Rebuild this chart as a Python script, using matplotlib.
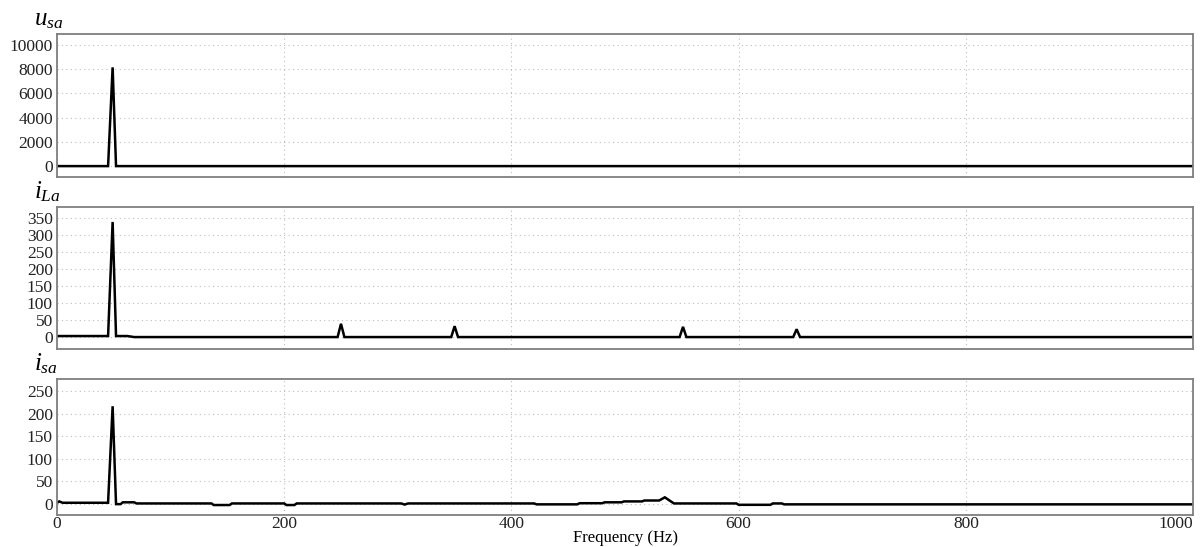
"""Harmonic spectra of u_sa, i_La and i_sa (three stacked panels)."""

import matplotlib

matplotlib.use("Agg")
import matplotlib.pyplot as plt

plt.rcParams["font.family"] = ["Liberation Serif", "DejaVu Serif"]
plt.rcParams["mathtext.fontset"] = "custom"
plt.rcParams["mathtext.rm"] = "Liberation Serif"
plt.rcParams["mathtext.it"] = "Liberation Serif:italic"

# --- data ---
usa_freq = [0, 45, 49, 52, 1000]
usa_mag = [0, 0, 8150, 0, 0]

ila_freq = [0, 45, 49, 52, 62, 68, 247, 250, 253, 347, 350, 353,
            548, 551, 554, 648, 651, 654, 1000]
ila_mag = [3, 3, 338, 3, 3, 0, 0, 39, 0, 0, 32, 0,
           0, 30, 0, 0, 23, 0, 0]

isa_freq = [0, 2, 5, 45, 49, 52, 56, 58, 68, 70, 136, 138, 152, 154,
            200, 202, 209, 211, 303, 306, 309, 420, 422, 458, 460, 480,
            482, 497, 499, 515, 517, 530, 535, 543, 598, 600, 628, 630,
            638, 640, 1000]
isa_mag = [3, 6, 3, 3, 216, 0, 0, 4, 4, 1.5, 1.5, -2, -2, 1.5,
           1.5, -2, -2, 1.5, 1.5, -1, 1.5, 1.5, -0.5, -0.5, 2, 2,
           4, 4, 6, 6, 8, 8, 15, 1.5, 1.5, -1.5, -1.5, 1.5,
           1.5, -0.5, -0.5]

labels = [r"$u_{sa}$", r"$i_{La}$", r"$i_{sa}$"]
yticks = [
    [0, 2000, 4000, 6000, 8000, 10000],
    [0, 50, 100, 150, 200, 250, 300, 350],
    [0, 50, 100, 150, 200, 250],
]
ylims = [(-900, 10900), (-35, 382), (-24, 276)]
xticks = [0, 200, 400, 600, 800, 1000]

# panel boxes in figure fractions: (bottom, top)
boxes = [(0.6764, 0.9378), (0.362, 0.6216), (0.0585, 0.307)]
LEFT, RIGHT = 0.0473, 0.991


def _style(ax, ytk, ylim, show_x):
    ax.set_xlim(0, 1000)
    ax.set_ylim(*ylim)
    ax.set_yticks(ytk)
    ax.set_xticks(xticks)
    ax.grid(True, linestyle=(0, (1, 3)), color="#bdbdbd", linewidth=0.8)
    ax.tick_params(length=0, labelsize=12.5, colors="#222222")
    ax.tick_params(axis="y", pad=3)
    ax.tick_params(axis="x", pad=1)
    if show_x:
        ax.get_xticklabels()[-1].set_horizontalalignment("right")
    else:
        ax.set_xticklabels([])
    for sp in ax.spines.values():
        sp.set_color("#7f7f7f")
        sp.set_linewidth(1.3)


fig = plt.figure(figsize=(12.04, 5.47), dpi=100)
series = [(usa_freq, usa_mag), (ila_freq, ila_mag), (isa_freq, isa_mag)]
for i, ((f, m), (b, t)) in enumerate(zip(series, boxes)):
    ax = fig.add_axes([LEFT, b, RIGHT - LEFT, t - b])
    ax.plot(f, m, color="black", linewidth=1.8, solid_joinstyle="miter")
    _style(ax, yticks[i], ylims[i], show_x=(i == 2))
    fig.text(0.028, t + 0.006, labels[i], fontsize=18, ha="left", va="bottom")

fig.text((LEFT + RIGHT) / 2, 0.016, "Frequency (Hz)", fontsize=12,
         ha="center", va="center")

fig.savefig("out.png", dpi=100)
plt.close(fig)
